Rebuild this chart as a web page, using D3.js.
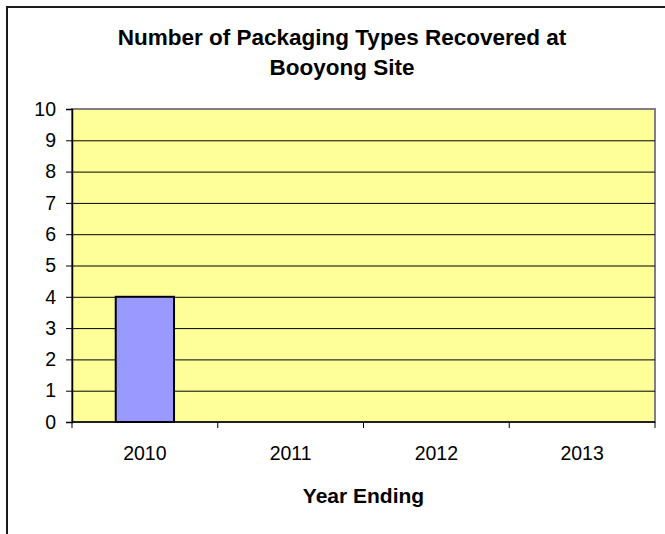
<!DOCTYPE html>
<html>
<head>
<meta charset="utf-8">
<script src="https://cdn.jsdelivr.net/npm/d3@7"></script>
<style>
  body { margin: 0; background: #fff; }
  text { font-family: Arial, "Liberation Sans", sans-serif; fill: #000; }
</style>
</head>
<body>
<div class="chartBox"></div>
<script>
// data
var years = ['2010', '2011', '2012', '2013'];
var counts = [4, 0, 0, 0];
var yTicks = [0, 1, 2, 3, 4, 5, 6, 7, 8, 9, 10];
var titleLines = ['Number of Packaging Types Recovered at', 'Booyong Site'];
var xTitle = 'Year Ending';

var W = 665, H = 534;
var plot = { left: 72, right: 655, top: 109, bottom: 422 };

var svg = d3.select('.chartBox')
    .append('svg')
    .attr('width', W)
    .attr('height', H);

// outer chart frame (cut off at right and bottom)
svg.append('rect')
    .attr('x', 7)
    .attr('y', 7)
    .attr('width', W + 20)
    .attr('height', H + 20)
    .attr('fill', '#fff')
    .attr('stroke', '#1a1a1a')
    .attr('stroke-width', 2);

var x = d3.scaleBand()
    .domain(years)
    .range([plot.left, plot.right])
    .paddingInner(0.6)
    .paddingOuter(0.3);

var xBand = d3.scaleBand()
    .domain(years)
    .range([plot.left, plot.right]);

var y = d3.scaleLinear()
    .domain([0, 10])
    .range([plot.bottom, plot.top]);

// plot area
svg.append('rect')
    .attr('x', plot.left)
    .attr('y', plot.top)
    .attr('width', plot.right - plot.left)
    .attr('height', plot.bottom - plot.top)
    .attr('fill', '#ffff99')
    .attr('stroke', '#808080')
    .attr('stroke-width', 2);

// gridlines
svg.selectAll('.grid')
    .data(yTicks.filter(d => d > 0 && d < 10))
    .enter().append('line')
    .attr('class', 'grid')
    .attr('x1', plot.left)
    .attr('x2', plot.right)
    .attr('y1', d => y(d) + 0.5)
    .attr('y2', d => y(d) + 0.5)
    .attr('stroke', '#000')
    .attr('stroke-width', 1);

// bars
svg.selectAll('.bar')
    .data(counts.map((v, i) => ({ year: years[i], value: v })).filter(d => d.value > 0))
    .enter().append('rect')
    .attr('class', 'bar')
    .attr('x', d => x(d.year))
    .attr('y', d => y(d.value))
    .attr('width', x.bandwidth())
    .attr('height', d => y(0) - y(d.value))
    .attr('fill', '#9999ff')
    .attr('stroke', '#000')
    .attr('stroke-width', 2);

// y axis
var yAxis = svg.append('g')
    .attr('transform', 'translate(' + plot.left + ',0)')
    .call(d3.axisLeft(y).tickValues(yTicks).tickSize(6).tickPadding(10).tickFormat(d3.format('d')));
yAxis.select('.domain').attr('stroke', '#000').attr('stroke-width', 1.5);
yAxis.selectAll('.tick line').attr('stroke', '#000');
yAxis.selectAll('.tick text').style('font-size', '19.5px').attr('fill', '#000');

// x axis: ticks at band boundaries, labels at band centres
var xAxis = svg.append('g')
    .attr('transform', 'translate(0,' + plot.bottom + ')');
xAxis.append('line')
    .attr('x1', plot.left).attr('x2', plot.right)
    .attr('y1', 0).attr('y2', 0)
    .attr('stroke', '#000').attr('stroke-width', 1.5);
var edges = years.map(d => xBand(d)).concat([plot.right]);
xAxis.selectAll('.xtick')
    .data(edges)
    .enter().append('line')
    .attr('class', 'xtick')
    .attr('x1', d => d).attr('x2', d => d)
    .attr('y1', 0).attr('y2', 6)
    .attr('stroke', '#000');
xAxis.selectAll('.xlabel')
    .data(years)
    .enter().append('text')
    .attr('class', 'xlabel')
    .attr('x', d => xBand(d) + xBand.bandwidth() / 2)
    .attr('y', 38)
    .attr('text-anchor', 'middle')
    .style('font-size', '19.5px')
    .text(d => d);

// titles
svg.selectAll('.title')
    .data(titleLines)
    .enter().append('text')
    .attr('class', 'title')
    .attr('x', 342)
    .attr('y', (d, i) => 45 + i * 30)
    .attr('text-anchor', 'middle')
    .style('font-size', '22.5px')
    .style('font-weight', 'bold')
    .text(d => d);

svg.append('text')
    .attr('x', (plot.left + plot.right) / 2)
    .attr('y', 503)
    .attr('text-anchor', 'middle')
    .style('font-size', '21px')
    .style('font-weight', 'bold')
    .text(xTitle);
</script>
</body>
</html>
